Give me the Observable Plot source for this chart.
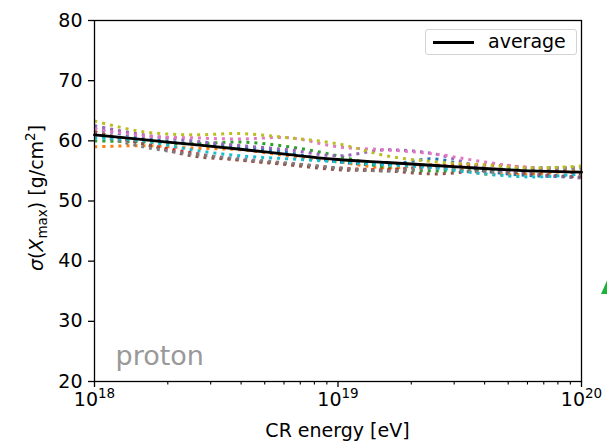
<!DOCTYPE html>
<html><head><meta charset="utf-8">
<script src="https://cdn.jsdelivr.net/npm/d3@7"></script>
<script src="https://cdn.jsdelivr.net/npm/@observablehq/plot@0.6"></script>
<style>
body{margin:0;background:#fff;}
#wrap{position:relative;width:607px;height:442px;overflow:hidden;font-family:"DejaVu Sans",sans-serif;background:#fff}
#legend{position:absolute;left:425px;top:29px;width:150px;height:24px;border:1px solid #d3d3d3;border-radius:3px;background:rgba(255,255,255,0.8);}
#legend .ln{position:absolute;left:7px;top:11px;width:41px;height:2.6px;background:#000;}
#legend .tx{position:absolute;left:62px;top:0px;font-size:19px;line-height:23px;color:#000;}
</style>
</head><body><div id="wrap"></div>
<script>
// log10 of CR energy [eV] sample points
const logE = [18.0, 18.2, 18.4, 18.6, 18.8, 19.0, 19.2, 19.4, 19.6, 19.8, 20.0];
const average = [61.0, 60.2, 59.4, 58.6, 57.7, 56.9, 56.4, 55.9, 55.4, 55.0, 54.8];
const seriesColors = ["#1f77b4", "#ff7f0e", "#2ca02c", "#d62728", "#9467bd", "#8c564b", "#e377c2", "#7f7f7f", "#bcbd22", "#17becf"];
const sBlue   = [62.0, 60.5, 59.5, 59.0, 58.0, 56.5, 56.0, 57.0, 55.0, 54.2, 54.0];
const sOrange = [59.0, 59.2, 58.8, 58.5, 57.5, 56.5, 55.5, 56.0, 54.5, 54.5, 55.2];
const sGreen  = [60.0, 59.8, 59.5, 59.8, 59.0, 57.5, 55.5, 55.0, 55.2, 55.5, 55.5];
const sRed    = [61.5, 59.5, 58.0, 56.8, 56.2, 55.5, 55.2, 55.8, 56.0, 55.5, 54.5];
const sPurple = [62.5, 61.0, 60.0, 59.2, 58.5, 57.5, 58.5, 57.8, 55.5, 54.5, 53.8];
const sBrown  = [61.5, 59.5, 57.5, 56.8, 56.0, 55.2, 55.0, 54.5, 55.0, 54.5, 54.0];
const sPink   = [62.0, 60.8, 60.5, 60.3, 60.5, 59.0, 58.5, 57.8, 56.5, 55.5, 55.5];
const sGray   = [61.0, 59.0, 57.8, 57.0, 56.3, 55.5, 55.0, 55.5, 54.8, 55.2, 55.5];
const sOlive  = [63.3, 61.5, 61.0, 61.2, 60.5, 59.5, 57.5, 56.5, 56.0, 55.5, 55.8];
const sCyan   = [60.5, 60.0, 58.5, 57.5, 57.0, 56.5, 56.0, 55.5, 54.5, 54.0, 54.5];
const seriesValues = [sBlue, sOrange, sGreen, sRed, sPurple, sBrown, sPink, sGray, sOlive, sCyan];
const yTicks = [20, 30, 40, 50, 60, 70, 80];
const xMajor = [1e18, 1e19, 1e20];
const xMinor = [2,3,4,5,6,7,8,9].flatMap(m => [m*1e18, m*1e19]);
const panelLabel = "proton";
const xLabel = "CR energy [eV]";

const rows = [];
seriesValues.forEach((vals, si) => vals.forEach((v, i) => rows.push({s: si, color: seriesColors[si], E: Math.pow(10, logE[i]), v})));
const avgRows = average.map((v, i) => ({E: Math.pow(10, logE[i]), v}));

const chart = Plot.plot({
  width: 607, height: 442,
  marginLeft: 94, marginRight: 26, marginTop: 20, marginBottom: 61,
  style: {fontFamily: "DejaVu Sans, sans-serif", fontSize: "19px", color: "#000", background: "#fff", overflow: "visible"},
  color: {type: "identity"},
  x: {type: "log", domain: [1e18, 1e20], label: null},
  y: {domain: [20, 80], label: null},
  marks: [
    Plot.line(rows, {x: "E", y: "v", z: "s", stroke: "color", strokeWidth: 3, strokeDasharray: "3,5", strokeLinecap: "butt", curve: "catmull-rom"}),
    Plot.line(avgRows, {x: "E", y: "v", stroke: "#000", strokeWidth: 2.8, curve: "catmull-rom"}),
    Plot.frame({stroke: "#000", strokeWidth: 1.3}),
    Plot.axisX({ticks: xMajor, tickSize: 6, tickPadding: 5, tickFormat: d => "10^" + Math.round(Math.log10(d)), fontSize: 19, stroke: "#000", strokeWidth: 1.3}),
    Plot.axisX({ticks: xMinor, tickSize: 3.5, text: null, stroke: "#000", strokeWidth: 1.1}),
    Plot.axisY({ticks: yTicks, tickSize: 6, tickPadding: 6, fontSize: 19, stroke: "#000", strokeWidth: 1.3}),
    Plot.text([panelLabel], {frameAnchor: "bottom-left", dx: 21, dy: -17, fill: "#999", fontSize: 27, textAnchor: "start", lineAnchor: "bottom"})
  ]
});

const svg = d3.select(chart);
// rewrite "10^n" tick labels with a real superscript
svg.selectAll("text").each(function() {
  const el = d3.select(this);
  if (el.selectAll("tspan").size() > 0) return;
  const m = /^10\^(\d+)$/.exec(el.text());
  if (!m) return;
  el.text("");
  el.append("tspan").text("10");
  el.append("tspan").attr("font-size", 13.5).attr("dy", -8).text(m[1]);
});
svg.selectAll("tspan").each(function() {
  const el = d3.select(this);
  const m = /^10\^(\d+)$/.exec(el.text());
  if (!m) return;
  el.text("10");
  d3.select(this.parentNode).append("tspan").attr("font-size", 13.5).attr("dy", -8).text(m[1]);
});

svg.append("text").attr("x", 337.5).attr("y", 437).attr("text-anchor", "middle").attr("font-size", 19).attr("fill", "#000").text(xLabel);
const t = svg.append("text").attr("transform", "translate(43,198) rotate(-90)").attr("text-anchor", "middle").attr("font-size", 19).attr("fill", "#000");
t.append("tspan").attr("font-style", "italic").text("σ");
t.append("tspan").text("(");
t.append("tspan").attr("font-style", "italic").text("X");
t.append("tspan").attr("font-size", 13.5).attr("dy", 4).text("max");
t.append("tspan").attr("dy", -4).text(") [g/cm");
t.append("tspan").attr("font-size", 13.5).attr("dy", -8).text("2");
t.append("tspan").attr("dy", 8).text("]");
// fragment of the neighbouring panel's green marker, clipped by the figure edge
svg.append("path").attr("d", "M601,294 L609,276 L609,294 Z").attr("fill", "#1db33a");

const wrap = document.getElementById("wrap");
wrap.appendChild(chart);
const lg = document.createElement("div");
lg.id = "legend";
lg.innerHTML = '<div class="ln"></div><div class="tx">average</div>';
wrap.appendChild(lg);
</script>
</body></html>
